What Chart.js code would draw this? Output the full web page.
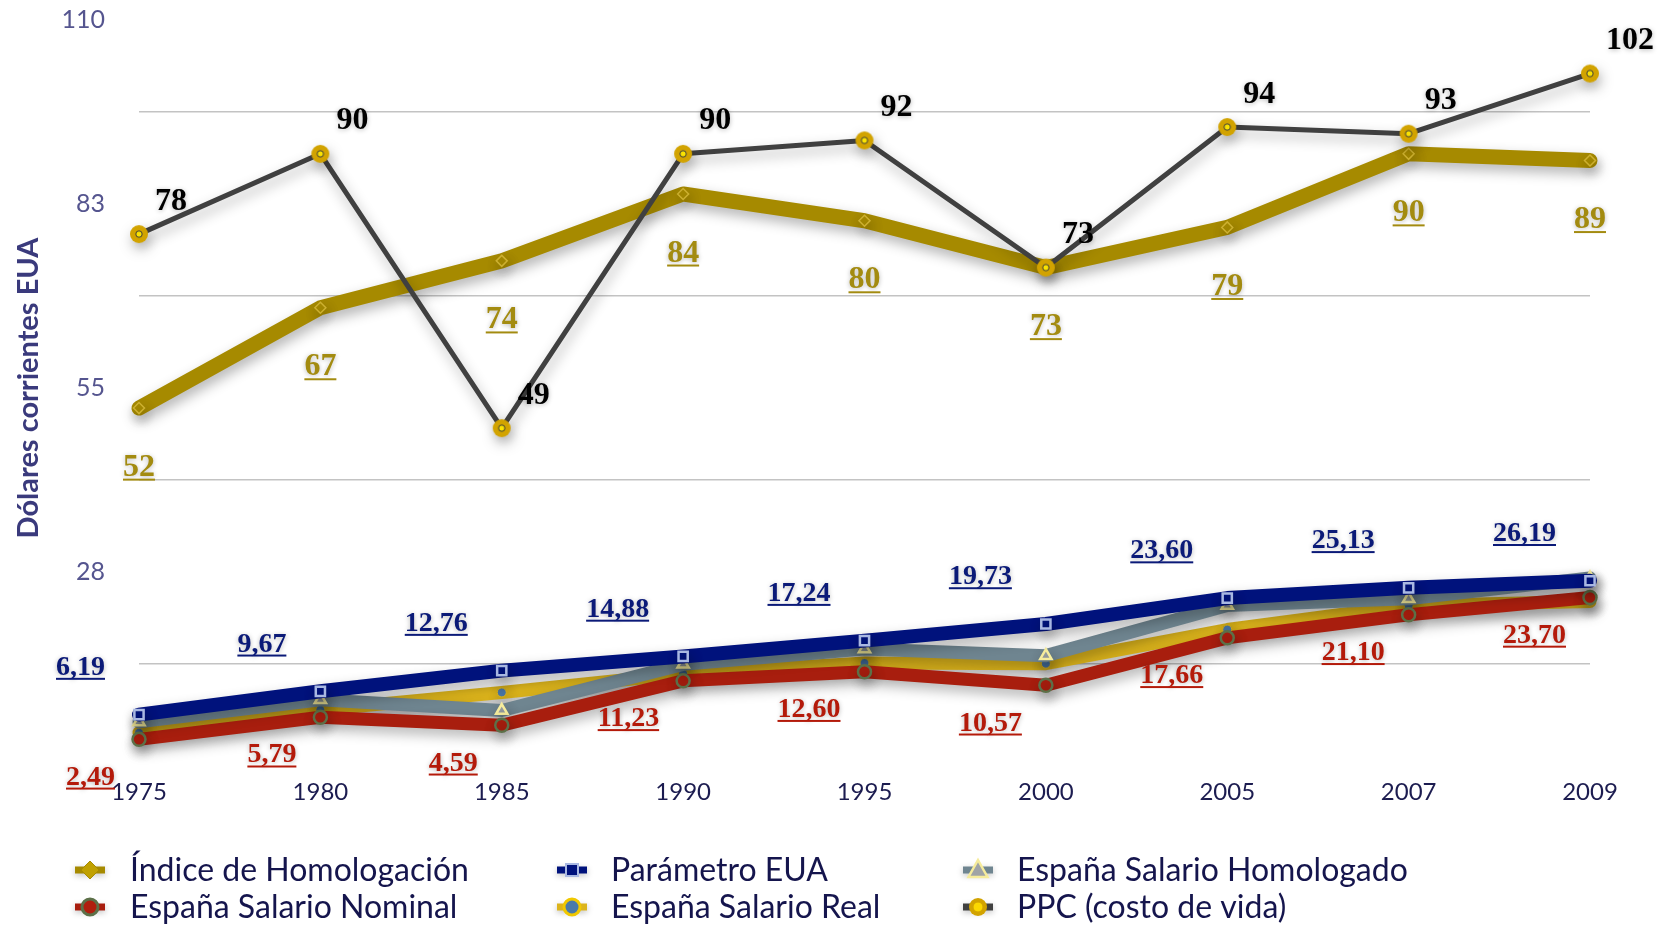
<!DOCTYPE html>
<html>
<head>
<meta charset="utf-8">
<script src="https://cdn.jsdelivr.net/npm/chart.js@4/dist/chart.umd.min.js"></script>
<style>
html,body{margin:0;padding:0;background:#ffffff;}
#wrap{position:relative;width:1667px;height:925px;}
canvas{display:block;}
</style>
</head>
<body>
<div id="wrap"><canvas id="c" width="1667" height="925"></canvas></div>
<script>
// ---------- DATA ----------
const categories = ['1975','1980','1985','1990','1995','2000','2005','2007','2009'];
const indiceHomologacion = [52, 67, 74, 84, 80, 73, 79, 90, 89];
const parametroEUA = [6.19, 9.67, 12.76, 14.88, 17.24, 19.73, 23.60, 25.13, 26.19];
const espanaSalarioHomologado = [5.1, 8.4, 6.8, 13.7, 16.0, 15.0, 22.5, 23.5, 26.6];
const espanaSalarioNominal = [2.49, 5.79, 4.59, 11.23, 12.60, 10.57, 17.66, 21.10, 23.70];
const espanaSalarioReal = [3.5, 6.9, 9.5, 12.3, 13.9, 13.8, 18.9, 22.5, 23.1];
const ppcCostoVida = [78, 90, 49, 90, 92, 73, 94, 93, 102];
const yTickValues = [27.5, 55, 82.5, 110];
const yTickLabels = ['28', '55', '83', '110'];
const yGridValues = [13.75, 41.25, 68.75, 96.25];
const yAxisTitle = 'Dólares corrientes EUA';

// ---------- HELPERS ----------
const fmtInt = v => String(Math.round(v));
const fmtDec = v => v.toFixed(2).replace('.', ',');

function drawMarker(ctx, m, x, y) {
  ctx.save();
  ctx.fillStyle = m.fill;
  ctx.strokeStyle = m.stroke;
  ctx.lineWidth = m.bw;
  ctx.beginPath();
  const r = m.r;
  if (m.style === 'rectRot') {
    ctx.moveTo(x, y - r); ctx.lineTo(x + r, y); ctx.lineTo(x, y + r); ctx.lineTo(x - r, y); ctx.closePath();
  } else if (m.style === 'rect') {
    ctx.rect(x - r, y - r, 2 * r, 2 * r);
  } else if (m.style === 'triangle') {
    ctx.moveTo(x, y - r); ctx.lineTo(x + r * 0.95, y + r * 0.7); ctx.lineTo(x - r * 0.95, y + r * 0.7); ctx.closePath();
  } else {
    ctx.arc(x, y, r, 0, Math.PI * 2);
  }
  ctx.fill();
  if (m.bw > 0) ctx.stroke();
  if (m.inner) {
    ctx.beginPath();
    ctx.arc(x, y, m.inner.r, 0, Math.PI * 2);
    ctx.fillStyle = m.inner.fill;
    ctx.fill();
    ctx.lineWidth = m.inner.bw;
    ctx.strokeStyle = m.inner.stroke;
    ctx.stroke();
  }
  ctx.restore();
}

function markerCanvas(m) {
  const size = Math.ceil(2 * m.r + m.bw + 2);
  const cv = document.createElement('canvas');
  cv.width = size; cv.height = size;
  drawMarker(cv.getContext('2d'), m, size / 2, size / 2);
  return cv;
}

const ppcMarker = {style: 'circle', r: 9, fill: '#d2a300', stroke: '#d2a300', bw: 0,
                   inner: {r: 3.2, fill: '#fbe300', stroke: '#3c3c3c', bw: 1}};

// ---------- DATASETS (legend order) ----------
const datasets = [
  {
    label: 'Índice de Homologación', data: indiceHomologacion, yAxisID: 'y', order: 5,
    borderColor: '#a68a00', backgroundColor: '#a68a00', borderWidth: 15,
    pointStyle: 'rectRot', pointRadius: 5.5, pointBackgroundColor: '#a68a00', pointBorderColor: '#cdb030', pointBorderWidth: 1.5,
    legendMarker: {style: 'rectRot', r: 9, fill: '#c0a000', stroke: '#a68a00', bw: 1},
    valueLabel: {format: fmtInt, color: '#a38b10', size: 32, align: 'center', dx: 0, dy: 57, underline: true}
  },
  {
    label: 'Parámetro EUA', data: parametroEUA, yAxisID: 'y', order: 1,
    borderColor: '#00127c', backgroundColor: '#00127c', borderWidth: 14,
    pointStyle: 'rect', pointRadius: 6.5, pointBackgroundColor: '#00127c', pointBorderColor: '#a9b8e2', pointBorderWidth: 2.5,
    legendMarker: {style: 'rect', r: 6, fill: '#00127c', stroke: '#a9b8e2', bw: 2},
    valueLabel: {format: fmtDec, color: '#0b1a78', size: 28, align: 'right', dx: -34, dy: -49, underline: true}
  },
  {
    label: 'España Salario Homologado', data: espanaSalarioHomologado, yAxisID: 'y', order: 3,
    borderColor: '#6f8590', backgroundColor: '#6f8590', borderWidth: 13,
    pointStyle: 'triangle', pointRadius: 6.5, pointBackgroundColor: '#9aa0a4', pointBorderColor: '#f6ec9c', pointBorderWidth: 2.5,
    legendMarker: {style: 'triangle', r: 10, fill: '#a0a4a6', stroke: '#f6ec9c', bw: 2.5}
  },
  {
    label: 'España Salario Nominal', data: espanaSalarioNominal, yAxisID: 'y', order: 2,
    borderColor: '#a81e0e', backgroundColor: '#a81e0e', borderWidth: 13,
    pointStyle: 'circle', pointRadius: 6.5, pointBackgroundColor: '#a81e0e', pointBorderColor: '#5c7048', pointBorderWidth: 2.5,
    legendMarker: {style: 'circle', r: 8, fill: '#b01e0e', stroke: '#5c7048', bw: 3},
    valueLabel: {format: fmtDec, color: '#b41a0a', size: 28, align: 'right', dx: -24, dy: 36, underline: true}
  },
  {
    label: 'España Salario Real', data: espanaSalarioReal, yAxisID: 'y', order: 4,
    borderColor: '#dcb41c', backgroundColor: '#dcb41c', borderWidth: 13,
    pointStyle: 'circle', pointRadius: 4.5, pointBackgroundColor: '#4a78a8', pointBorderColor: '#dcb41c', pointBorderWidth: 1,
    legendMarker: {style: 'circle', r: 8, fill: '#4a7aaa', stroke: '#f0c800', bw: 3}
  },
  {
    label: 'PPC (costo de vida)', data: ppcCostoVida, yAxisID: 'y', order: 0,
    borderColor: '#404040', backgroundColor: '#404040', borderWidth: 5,
    pointStyle: markerCanvas(ppcMarker), pointRadius: 9,
    legendMarker: {style: 'circle', r: 9, fill: '#d2a300', stroke: '#d2a300', bw: 0,
                   inner: {r: 5, fill: '#fbd800', stroke: '#d2a300', bw: 1}},
    valueLabel: {format: fmtInt, color: '#000000', size: 32, align: 'left', dx: 16, dy: -35, underline: false}
  }
];
datasets.forEach(d => { d.fill = false; d.clip = false; d.tension = 0; d.borderJoinStyle = 'round'; d.borderCapStyle = 'round'; d.pointHoverRadius = d.pointRadius; });

// ---------- PLUGINS ----------
const shadowPlugin = {
  id: 'lineShadow',
  beforeDatasetDraw(chart) {
    const ctx = chart.ctx;
    ctx.save();
    ctx.shadowColor = 'rgba(0,0,0,0.30)';
    ctx.shadowBlur = 13;
    ctx.shadowOffsetX = 2;
    ctx.shadowOffsetY = 6;
  },
  afterDatasetDraw(chart) {
    chart.ctx.restore();
  }
};

const labelPlugin = {
  id: 'valueLabels',
  afterDatasetsDraw(chart) {
    const ctx = chart.ctx;
    chart.data.datasets.forEach((ds, i) => {
      const dl = ds.valueLabel;
      if (!dl) return;
      const meta = chart.getDatasetMeta(i);
      meta.data.forEach((pt, j) => {
        const txt = dl.format(ds.data[j]);
        ctx.save();
        ctx.font = 'bold ' + dl.size + 'px "Liberation Serif", "DejaVu Serif", serif';
        ctx.textBaseline = 'alphabetic';
        ctx.textAlign = 'left';
        const w = ctx.measureText(txt).width;
        let x = pt.x + dl.dx;
        if (dl.align === 'right') x -= w;
        else if (dl.align === 'center') x -= w / 2;
        const base = pt.y + dl.dy + dl.size * 0.33;
        ctx.shadowColor = 'rgba(0,0,0,0.28)';
        ctx.shadowBlur = 5;
        ctx.shadowOffsetY = 1;
        ctx.fillStyle = dl.color;
        ctx.fillText(txt, x, base);
        if (dl.underline) {
          ctx.shadowColor = 'rgba(0,0,0,0)';
          ctx.fillRect(x, base + 3, w, 2);
        }
        ctx.restore();
      });
    });
  }
};

const legendPlugin = {
  id: 'gridLegend',
  afterDraw(chart) {
    const ctx = chart.ctx;
    const cols = [{mx: 90, tx: 130}, {mx: 572, tx: 611}, {mx: 978, tx: 1017}];
    const rows = [870, 907];
    chart.data.datasets.forEach((ds, k) => {
      const c = cols[k % 3], ry = rows[Math.floor(k / 3)];
      ctx.save();
      ctx.shadowColor = 'rgba(0,0,0,0.25)';
      ctx.shadowBlur = 6;
      ctx.shadowOffsetY = 2;
      ctx.fillStyle = ds.borderColor;
      ctx.fillRect(c.mx - 15, ry - 3.5, 30, 7);
      ctx.restore();
      drawMarker(ctx, ds.legendMarker, c.mx, ry);
      ctx.save();
      ctx.font = '32px Lato, "Open Sans", sans-serif';
      ctx.fillStyle = '#15154d';
      ctx.textBaseline = 'middle';
      ctx.textAlign = 'left';
      ctx.fillText(ds.label, c.tx, ry + 1);
      ctx.restore();
    });
  }
};

// ---------- CHART ----------
new Chart(document.getElementById('c'), {
  type: 'line',
  data: {labels: categories, datasets: datasets},
  plugins: [shadowPlugin, labelPlugin, legendPlugin],
  options: {
    responsive: false,
    animation: false,
    devicePixelRatio: 1,
    layout: {padding: {top: 20, right: 77, bottom: 109, left: 0}},
    plugins: {legend: {display: false}, tooltip: {enabled: false}, title: {display: false}},
    scales: {
      x: {
        type: 'category', offset: false,
        grid: {display: false, drawTicks: false}, border: {display: false},
        ticks: {color: '#1c1c50', font: {family: 'Lato', size: 24}, padding: 22, maxRotation: 0, autoSkip: false},
        afterFit: s => { s.height = 60; }
      },
      y: {
        type: 'linear', position: 'left', min: 0, max: 110,
        afterBuildTicks: s => { s.ticks = yTickValues.map(v => ({value: v})); },
        afterFit: s => { s.width = 139; },
        ticks: {callback: (v, i) => yTickLabels[i], padding: 0, color: '#55558f', font: {family: 'Lato', size: 25}},
        grid: {display: false, drawTicks: true, tickLength: 34}, border: {display: false},
        title: {display: true, text: yAxisTitle, color: '#3a3a7c', font: {family: 'Lato', size: 29, weight: 'bold'}, padding: {top: 11, bottom: 0}}
      },
      yg: {
        type: 'linear', position: 'left', min: 0, max: 110,
        afterBuildTicks: s => { s.ticks = yGridValues.map(v => ({value: v})); },
        afterFit: s => { s.width = 0; },
        ticks: {display: false, padding: 0},
        grid: {display: true, color: '#c3c3c3', lineWidth: 1.5, drawTicks: false}, border: {display: false}
      }
    }
  }
});
</script>
</body>
</html>
